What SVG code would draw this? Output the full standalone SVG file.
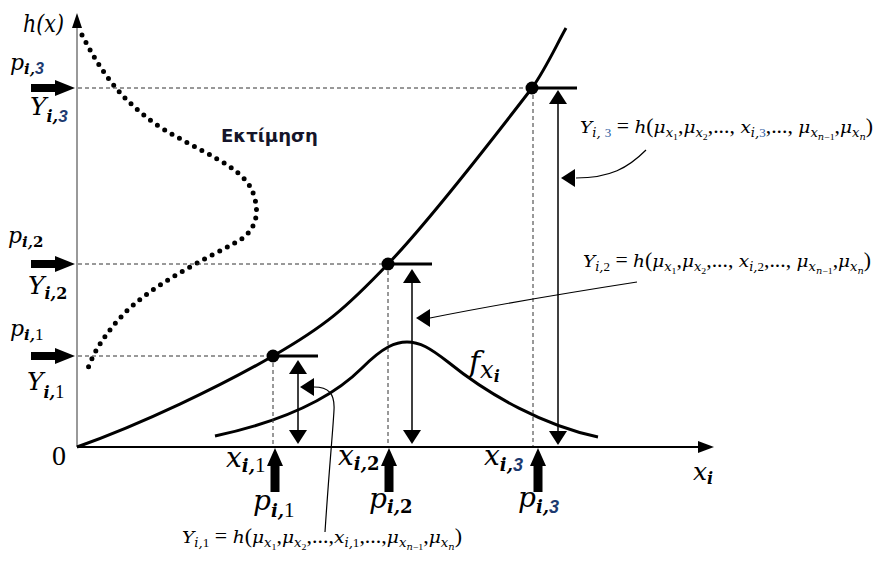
<svg xmlns="http://www.w3.org/2000/svg" xmlns:xlink="http://www.w3.org/1999/xlink" width="887" height="566" viewBox="0 0 887 566">
<style>
.rm{font-family:"Liberation Serif","Times New Roman",serif;fill:#000}
.it{font-family:"DejaVu Serif",serif;font-style:italic}
.bi{font-family:"DejaVu Serif",serif;font-style:italic;font-weight:bold}
.rb{font-family:"DejaVu Serif",serif;font-style:normal;font-weight:bold}
.r1{font-family:"Liberation Serif",serif;font-style:normal;font-weight:normal}
.s3{font-family:"Liberation Sans",Arial,sans-serif;font-weight:bold;font-style:italic;fill:#1c3a70}
.fm{font-family:"Liberation Serif","Times New Roman",serif;font-size:20px;fill:#000}
.fi{font-family:"DejaVu Serif",serif;font-style:italic;font-size:17px}
.sb{font-size:12px}
.ss{font-size:9px}
.dash{stroke:#333;stroke-width:1;stroke-dasharray:4 3;fill:none}
.thick{stroke:#000;stroke-width:3;fill:none}
.thin{stroke:#000;stroke-width:1.5;fill:none}
.call{stroke:#000;stroke-width:1.2;fill:none}
</style>
<defs>
<path id="tarrR" d="M-44,-4 H-20 V-8 L0,0 L-20,8 V4 H-44 Z" fill="#000"/>
<path id="tarrU" d="M0,0 L8,18 H4.5 V44 H-4.5 V18 H-8 Z" fill="#000"/>
<path id="tri" d="M0,0 L9,14 H-9 Z" fill="#000"/>
</defs>
<rect width="887" height="566" fill="#fff"/>

<g id="axes">
<line x1="77" y1="447" x2="77" y2="22" stroke="#999" stroke-width="2"/>
<path d="M77,13 L82,28 H72 Z" fill="#000"/>
<line x1="77" y1="447" x2="700" y2="447" stroke="#000" stroke-width="2"/>
<path d="M714,447 L698,441 V453 Z" fill="#000"/>
<text class="it" x="23" y="32" font-size="25" textLength="41" lengthAdjust="spacingAndGlyphs">h(x)</text>
<text class="rm" x="52" y="465" font-size="28">0</text>
<text class="it" x="693" y="480" font-size="25">x<tspan class="bi" font-size="16" dy="4">i</tspan></text>
</g>

<g id="distribution-h">
<path d="M82,35 C100,70 120,100 160,127 C200,152 240,165 252,190 C260,210 258,228 240,240 C200,262 150,285 120,318 C100,340 90,360 87,372" fill="none" stroke="#000" stroke-width="5" stroke-linecap="round" stroke-dasharray="0 8.5"/>
<text x="221" y="142" font-family="DejaVu Sans,Verdana,sans-serif" font-weight="bold" font-size="18" fill="#15152a" textLength="97" lengthAdjust="spacingAndGlyphs">Εκτίμηση</text>
</g>

<g id="curve-h">
<path class="thick" d="M77,447 C142,424 221,386 273,356 C325,326 345,309 388,264 C431,219 502,127 532,88 C545,70 556,46 566,28"/>
</g>

<g id="curve-f">
<path class="thick" d="M215,436 C280,422 330,400 362,368 C384,346 396,342 407,342 C420,342 430,348 448,362 C490,396 545,426 598,437"/>
<text class="it" x="469" y="372" font-size="30">f<tspan font-size="24" dy="6">x</tspan><tspan class="bi" font-size="16" dy="4">i</tspan></text>
</g>

<g id="guides">
<line class="dash" x1="78" y1="88" x2="532" y2="88"/>
<line class="dash" x1="78" y1="264" x2="388" y2="264"/>
<line class="dash" x1="78" y1="356" x2="273" y2="356"/>
<line class="dash" x1="273" y1="356" x2="273" y2="446"/>
<line class="dash" x1="388" y1="264" x2="388" y2="446"/>
<line class="dash" x1="533" y1="88" x2="533" y2="446"/>
</g>

<g id="point-1">
<circle cx="273" cy="356" r="6.5" fill="#000"/>
<line class="thick" x1="273" y1="356" x2="318" y2="356"/>
<line class="thin" x1="298" y1="372" x2="298" y2="432"/>
<use href="#tri" xlink:href="#tri" transform="translate(298,360)"/>
<use href="#tri" xlink:href="#tri" transform="translate(298,444) rotate(180)"/>
</g>
<g id="point-2">
<circle cx="388" cy="264" r="6.5" fill="#000"/>
<line class="thick" x1="388" y1="264" x2="432" y2="264"/>
<line class="thin" x1="412" y1="281" x2="412" y2="432"/>
<use href="#tri" xlink:href="#tri" transform="translate(412,269)"/>
<use href="#tri" xlink:href="#tri" transform="translate(412,444) rotate(180)"/>
</g>
<g id="point-3">
<circle cx="532" cy="88" r="6.5" fill="#000"/>
<line class="thick" x1="532" y1="88" x2="577" y2="88"/>
<line class="thin" x1="558" y1="102" x2="558" y2="433"/>
<use href="#tri" xlink:href="#tri" transform="translate(558,90)"/>
<use href="#tri" xlink:href="#tri" transform="translate(558,445) rotate(180)"/>
</g>

<g id="left-inputs">
<use href="#tarrR" xlink:href="#tarrR" transform="translate(75,88)"/>
<use href="#tarrR" xlink:href="#tarrR" transform="translate(75,264)"/>
<use href="#tarrR" xlink:href="#tarrR" transform="translate(75,356)"/>
<text class="it" x="10" y="70" font-size="22">p<tspan class="bi" font-size="15" dy="4">i,</tspan><tspan class="s3" font-size="16">3</tspan></text>
<text class="it" x="30" y="115" font-size="25">Y<tspan class="bi" font-size="16" dy="7">i,</tspan><tspan class="s3" font-size="17">3</tspan></text>
<text class="it" x="8" y="243" font-size="22">p<tspan class="bi" font-size="15" dy="4">i,</tspan><tspan class="rb" font-size="15">2</tspan></text>
<text class="it" x="28" y="294" font-size="25">Y<tspan class="bi" font-size="16" dy="5">i,</tspan><tspan class="rb" font-size="16">2</tspan></text>
<text class="it" x="10" y="336" font-size="22">p<tspan class="bi" font-size="15" dy="4">i,</tspan><tspan class="r1" font-size="17">1</tspan></text>
<text class="it" x="27" y="390" font-size="25">Y<tspan class="bi" font-size="16" dy="8">i,</tspan><tspan class="r1" font-size="18">1</tspan></text>
</g>

<g id="bottom-inputs">
<use href="#tarrU" xlink:href="#tarrU" transform="translate(275,448)"/>
<use href="#tarrU" xlink:href="#tarrU" transform="translate(389,448)"/>
<use href="#tarrU" xlink:href="#tarrU" transform="translate(538,448)"/>
<text class="it" x="226" y="467" font-size="28">x<tspan class="bi" font-size="18" dy="5">i,</tspan><tspan class="r1" font-size="21">1</tspan></text>
<text class="it" x="253" y="510" font-size="28">p<tspan class="bi" font-size="18" dy="7">i,</tspan><tspan class="r1" font-size="21">1</tspan></text>
<text class="it" x="338" y="465" font-size="28">x<tspan class="bi" font-size="18" dy="5">i,</tspan><tspan class="rb" font-size="18">2</tspan></text>
<text class="it" x="369" y="508" font-size="28">p<tspan class="bi" font-size="18" dy="5">i,</tspan><tspan class="rb" font-size="18">2</tspan></text>
<text class="it" x="484" y="465" font-size="28">x<tspan class="bi" font-size="18" dy="6">i,</tspan><tspan class="s3" font-size="18">3</tspan></text>
<text class="it" x="518" y="507" font-size="28">p<tspan class="bi" font-size="18" dy="6">i,</tspan><tspan class="s3" font-size="18">3</tspan></text>
</g>

<g id="connectors">
<path class="call" d="M646,150 C628,168 610,178 576,178"/>
<use href="#tri" xlink:href="#tri" transform="translate(561,178) rotate(-90)"/>
<path class="call" d="M637,282 C560,294 480,308 430,318"/>
<use href="#tri" xlink:href="#tri" transform="translate(416,318) rotate(-90)"/>
<path class="call" d="M325,532 C329,470 333,430 334,410 C335,393 328,387 314,387"/>
<use href="#tri" xlink:href="#tri" transform="translate(300,387) rotate(-90)"/>
</g>

<g id="formula-3">
<text class="fm" x="580" y="133" textLength="293" lengthAdjust="spacingAndGlyphs"><tspan class="fi">Y</tspan><tspan class="sb it" dy="4">i, </tspan><tspan class="sb" fill="#2a5aa0">3</tspan><tspan dy="-4"> = </tspan><tspan class="fi">h</tspan><tspan>(</tspan><tspan class="fi">μ</tspan><tspan class="sb it" dy="4">x</tspan><tspan class="ss" dy="3">1</tspan><tspan dy="-7">,</tspan><tspan class="fi">μ</tspan><tspan class="sb it" dy="4">x</tspan><tspan class="ss" dy="3">2</tspan><tspan dy="-7">,..., </tspan><tspan class="fi">x</tspan><tspan class="sb it" dy="4">i,</tspan><tspan class="sb" fill="#2a5aa0">3</tspan><tspan dy="-4">,..., </tspan><tspan class="fi">μ</tspan><tspan class="sb it" dy="4">x</tspan><tspan class="ss it" dy="3">n</tspan><tspan class="ss">−1</tspan><tspan dy="-7">,</tspan><tspan class="fi">μ</tspan><tspan class="sb it" dy="4">x</tspan><tspan class="ss it" dy="3">n</tspan><tspan dy="-7">)</tspan></text>
</g>
<g id="formula-2">
<text class="fm" x="583" y="267" textLength="288" lengthAdjust="spacingAndGlyphs"><tspan class="fi">Y</tspan><tspan class="sb it" dy="4">i,</tspan><tspan class="sb">2</tspan><tspan dy="-4"> = </tspan><tspan class="fi">h</tspan><tspan>(</tspan><tspan class="fi">μ</tspan><tspan class="sb it" dy="4">x</tspan><tspan class="ss" dy="3">1</tspan><tspan dy="-7">,</tspan><tspan class="fi">μ</tspan><tspan class="sb it" dy="4">x</tspan><tspan class="ss" dy="3">2</tspan><tspan dy="-7">,..., </tspan><tspan class="fi">x</tspan><tspan class="sb it" dy="4">i,</tspan><tspan class="sb">2</tspan><tspan dy="-4">,..., </tspan><tspan class="fi">μ</tspan><tspan class="sb it" dy="4">x</tspan><tspan class="ss it" dy="3">n</tspan><tspan class="ss">−1</tspan><tspan dy="-7">,</tspan><tspan class="fi">μ</tspan><tspan class="sb it" dy="4">x</tspan><tspan class="ss it" dy="3">n</tspan><tspan dy="-7">)</tspan></text>
</g>
<g id="formula-1">
<text class="fm" x="182" y="543" textLength="280" lengthAdjust="spacingAndGlyphs"><tspan class="fi">Y</tspan><tspan class="sb it" dy="4">i,</tspan><tspan class="sb">1</tspan><tspan dy="-4"> = </tspan><tspan class="fi">h</tspan><tspan>(</tspan><tspan class="fi">μ</tspan><tspan class="sb it" dy="4">x</tspan><tspan class="ss" dy="3">1</tspan><tspan dy="-7">,</tspan><tspan class="fi">μ</tspan><tspan class="sb it" dy="4">x</tspan><tspan class="ss" dy="3">2</tspan><tspan dy="-7">,...,</tspan><tspan class="fi">x</tspan><tspan class="sb it" dy="4">i,</tspan><tspan class="sb">1</tspan><tspan dy="-4">,...,</tspan><tspan class="fi">μ</tspan><tspan class="sb it" dy="4">x</tspan><tspan class="ss it" dy="3">n</tspan><tspan class="ss">−1</tspan><tspan dy="-7">,</tspan><tspan class="fi">μ</tspan><tspan class="sb it" dy="4">x</tspan><tspan class="ss it" dy="3">n</tspan><tspan dy="-7">)</tspan></text>
</g>
</svg>
